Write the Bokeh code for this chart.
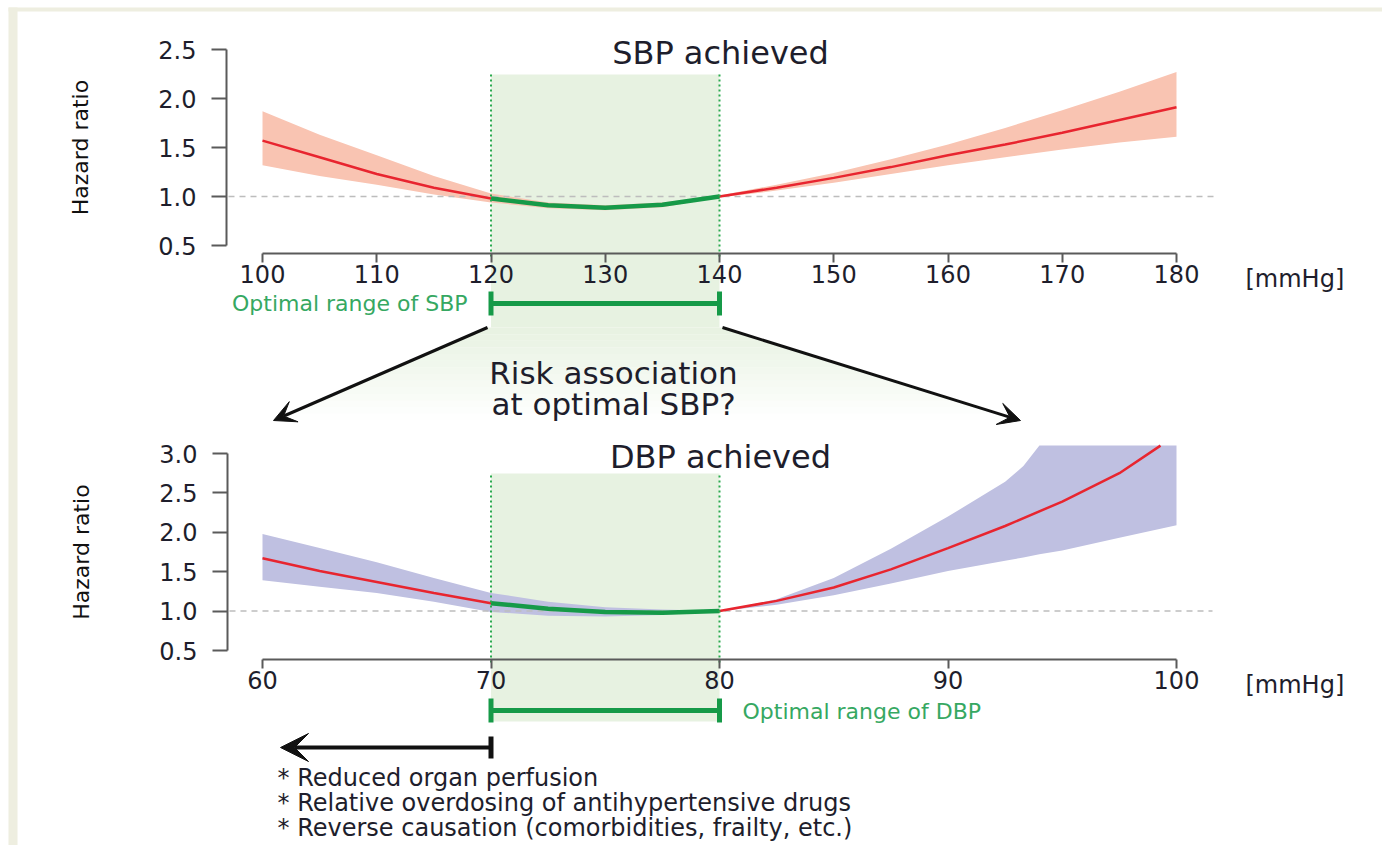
import numpy as np
from bokeh.plotting import figure
from bokeh.models import (Range1d, LinearAxis, FixedTicker, Label, Arrow, VeeHead,
                          ColumnDataSource, NumeralTickFormatter)
from bokeh.embed import file_html
from bokeh.resources import INLINE

# ---------------- data ----------------
sbp_x = [100, 105, 110, 115, 120, 125, 130, 135, 140, 145, 150, 155, 160, 165, 170, 175, 180]
sbp_hr = [1.57, 1.40, 1.23, 1.09, 0.98, 0.91, 0.885, 0.915, 1.00, 1.09, 1.19, 1.30, 1.42, 1.53, 1.65, 1.78, 1.91]
sbp_lo = [1.32, 1.21, 1.12, 1.02, 0.94, 0.88, 0.86, 0.89, 0.99, 1.06, 1.14, 1.23, 1.32, 1.40, 1.48, 1.55, 1.61]
sbp_hi = [1.87, 1.63, 1.42, 1.21, 1.03, 0.94, 0.91, 0.94, 1.01, 1.12, 1.24, 1.38, 1.53, 1.70, 1.88, 2.07, 2.27]
sbp_opt = [120, 140]

dbp_x = [60, 62.5, 65, 67.5, 70, 72.5, 75, 77.5, 80, 82.5, 85, 87.5, 90, 92.5, 95, 97.5, 99.3]
dbp_hr = [1.67, 1.51, 1.37, 1.23, 1.10, 1.03, 0.99, 0.98, 1.00, 1.13, 1.30, 1.53, 1.80, 2.08, 2.39, 2.75, 3.10]
dbp_band_x = [60, 62.5, 65, 67.5, 70, 72.5, 75, 77.5, 80, 82.5, 85, 87.5, 90, 92.5, 93.3, 94, 95, 97.5, 100]
dbp_lo = [1.39, 1.31, 1.23, 1.12, 0.99, 0.94, 0.93, 0.95, 1.00, 1.08, 1.20, 1.35, 1.51, 1.64, 1.68, 1.72, 1.77, 1.93, 2.09]
dbp_hi = [1.98, 1.80, 1.62, 1.42, 1.23, 1.12, 1.05, 1.02, 1.00, 1.15, 1.42, 1.79, 2.20, 2.64, 2.84, 3.10, 3.10, 3.10, 3.10]
dbp_opt = [70, 80]

sbp_ticks = [100, 110, 120, 130, 140, 150, 160, 170, 180]
hr1_ticks = [0.5, 1.0, 1.5, 2.0, 2.5]
dbp_ticks = [60, 70, 80, 90, 100]
hr2_ticks = [0.5, 1.0, 1.5, 2.0, 2.5, 3.0]
ref_hr = 1.0

bullets = ["* Reduced organ perfusion",
           "* Relative overdosing of antihypertensive drugs",
           "* Reverse causation (comorbidities, frailty, etc.)"]

# ---------------- layout (pixels of the picture) ----------------
X0, X1 = 0, 1382
Y0, Y1 = 845, 0


def lin(v1, p1, v2, p2):
    k = (v2 - v1) / (p2 - p1)
    return lambda px: v1 + (px - p1) * k


sbp_at = lin(100, 262, 180, 1176)
dbp_at = lin(60, 262, 100, 1176)
hr1_at = lin(0.5, 245, 2.5, 49)
hr2_at = lin(0.5, 650, 3.0, 453)

FONT = "DejaVu Sans"
TXT = "#1e1e2c"
GREEN = "#169a48"
GTXT = "#36a862"
SHADE = "#e7f2e1"
RED = "#e8252f"

p = figure(width=X1 - X0, height=Y0 - Y1, output_backend="svg", toolbar_location=None,
           x_range=Range1d(X0, X1), y_range=Range1d(Y0, Y1), min_border=0,
           x_axis_type=None, y_axis_type=None)
p.title.visible = False
p.outline_line_color = None
p.grid.visible = False
p.extra_x_ranges = {"sbp": Range1d(sbp_at(X0), sbp_at(X1)),
                    "dbp": Range1d(dbp_at(X0), dbp_at(X1))}
p.extra_y_ranges = {"hr1": Range1d(hr1_at(Y0), hr1_at(Y1)),
                    "hr2": Range1d(hr2_at(Y0), hr2_at(Y1))}

# page frame bands
p.quad(left=8, right=17, top=7, bottom=845, fill_color="#eeeee0", line_color=None)
p.quad(left=8, right=1382, top=7, bottom=11, fill_color="#eeeee0", line_color=None)

# ---- optimal range shading ----
p.quad(left=sbp_opt[0], right=sbp_opt[1], top=74, bottom=327, x_range_name="sbp",
       fill_color=SHADE, line_color=None)
p.quad(left=dbp_opt[0], right=dbp_opt[1], top=473, bottom=721, x_range_name="dbp",
       fill_color=SHADE, line_color=None)

# fading trapezoid between the arrows
la = ((487, 327), (273, 420))
ra = ((722, 327), (1020, 420))
N = 14
xs, ys, al = [], [], []
for i in range(N):
    t0, t1 = i / N, (i + 1) / N
    ya, yb = la[0][1] + t0 * (la[1][1] - la[0][1]), la[0][1] + t1 * (la[1][1] - la[0][1])
    xl0 = la[0][0] + t0 * (la[1][0] - la[0][0])
    xl1 = la[0][0] + t1 * (la[1][0] - la[0][0])
    xr0 = ra[0][0] + t0 * (ra[1][0] - ra[0][0])
    xr1 = ra[0][0] + t1 * (ra[1][0] - ra[0][0])
    xs.append([xl0, xr0, xr1, xl1])
    ys.append([ya, ya, yb, yb])
    al.append(1.0 - (i + 0.5) / N)
p.patches(xs=xs, ys=ys, fill_color=SHADE, fill_alpha=al, line_color=None)

# ---- top: SBP ----
s1 = ColumnDataSource(dict(x=sbp_x, hr=sbp_hr, lo=sbp_lo, hi=sbp_hi))
p.varea(x="x", y1="lo", y2="hi", source=s1, x_range_name="sbp", y_range_name="hr1",
        fill_color="#f9c4b2")
p.segment(x0=sbp_at(228), x1=sbp_at(1214), y0=ref_hr, y1=ref_hr, x_range_name="sbp",
          y_range_name="hr1", line_color="#bdbdbd", line_width=1.5, line_dash="6 5")
p.line(x="x", y="hr", source=s1, x_range_name="sbp", y_range_name="hr1",
       line_color=RED, line_width=2.5)
sx = np.array(sbp_x)
m1 = (sx >= sbp_opt[0]) & (sx <= sbp_opt[1])
p.line(x=sx[m1], y=np.array(sbp_hr)[m1], x_range_name="sbp", y_range_name="hr1",
       line_color=GREEN, line_width=4.5)
p.segment(x0=sbp_opt, x1=sbp_opt, y0=[74, 74], y1=[258, 258], x_range_name="sbp",
          line_color="#2aaa4e", line_width=2, line_dash="2 3")

xa1 = LinearAxis(x_range_name="sbp", y_range_name="hr1", fixed_location=hr1_at(253),
                 bounds=(100, 180), ticker=FixedTicker(ticks=sbp_ticks))
ya1 = LinearAxis(x_range_name="sbp", y_range_name="hr1", fixed_location=sbp_at(226),
                 bounds=(0.5, 2.5), ticker=FixedTicker(ticks=hr1_ticks),
                 formatter=NumeralTickFormatter(format="0.0"), axis_label="Hazard ratio")

# ---- bottom: DBP ----
s2 = ColumnDataSource(dict(x=dbp_band_x, lo=dbp_lo, hi=dbp_hi))
p.varea(x="x", y1="lo", y2="hi", source=s2, x_range_name="dbp", y_range_name="hr2",
        fill_color="#bfc0e1")
p.segment(x0=dbp_at(229), x1=dbp_at(1212), y0=ref_hr, y1=ref_hr, x_range_name="dbp",
          y_range_name="hr2", line_color="#bdbdbd", line_width=1.5, line_dash="6 5")
p.line(x=dbp_x, y=dbp_hr, x_range_name="dbp", y_range_name="hr2",
       line_color=RED, line_width=2.5)
dx = np.array(dbp_x)
m2 = (dx >= dbp_opt[0]) & (dx <= dbp_opt[1])
p.line(x=dx[m2], y=np.array(dbp_hr)[m2], x_range_name="dbp", y_range_name="hr2",
       line_color=GREEN, line_width=4.5)
p.segment(x0=dbp_opt, x1=dbp_opt, y0=[475, 475], y1=[664, 664], x_range_name="dbp",
          line_color="#2aaa4e", line_width=2, line_dash="2 3")

xa2 = LinearAxis(x_range_name="dbp", y_range_name="hr2", fixed_location=hr2_at(659),
                 bounds=(60, 100), ticker=FixedTicker(ticks=dbp_ticks))
ya2 = LinearAxis(x_range_name="dbp", y_range_name="hr2", fixed_location=dbp_at(227),
                 bounds=(0.5, 3.0), ticker=FixedTicker(ticks=hr2_ticks),
                 formatter=NumeralTickFormatter(format="0.0"), axis_label="Hazard ratio")

for ax in (xa1, ya1, xa2, ya2):
    ax.axis_line_color = "#5a5a5a"
    ax.axis_line_width = 2
    ax.major_tick_line_color = "#5a5a5a"
    ax.major_tick_line_width = 2
    ax.major_tick_in = 0
    ax.minor_tick_out = 0
    ax.minor_tick_in = 0
    ax.major_label_text_font = FONT
    ax.major_label_text_font_size = "24px"
    ax.major_label_text_color = TXT
for ax in (xa1, xa2):
    ax.major_tick_out = 9
    ax.major_label_standoff = 2
    p.add_layout(ax, "below")
for ax in (ya1, ya2):
    ax.major_tick_out = 15
    ax.major_label_standoff = 15
    ax.axis_label_text_font = FONT
    ax.axis_label_text_font_size = "22px"
    ax.axis_label_text_font_style = "normal"
    ax.axis_label_text_color = "#111111"
    ax.axis_label_standoff = 62
    p.add_layout(ax, "left")

# ---- optimal range bars ----
p.segment(x0=sbp_opt[0], x1=sbp_opt[1], y0=303, y1=303, x_range_name="sbp",
          line_color=GREEN, line_width=5)
p.segment(x0=sbp_opt, x1=sbp_opt, y0=[291, 291], y1=[315, 315], x_range_name="sbp",
          line_color=GREEN, line_width=5)
p.segment(x0=dbp_opt[0], x1=dbp_opt[1], y0=710, y1=710, x_range_name="dbp",
          line_color=GREEN, line_width=5)
p.segment(x0=dbp_opt, x1=dbp_opt, y0=[698, 698], y1=[722, 722], x_range_name="dbp",
          line_color=GREEN, line_width=5)

# ---- arrows ----
for (a, b) in (la, ra):
    p.add_layout(Arrow(end=VeeHead(size=22, fill_color="#111111", line_color="#111111"),
                       x_start=a[0], y_start=a[1], x_end=b[0], y_end=b[1],
                       line_color="#111111", line_width=3))
p.add_layout(Arrow(end=VeeHead(size=28, fill_color="#111111", line_color="#111111"),
                   x_start=dbp_opt[0], y_start=747, x_end=dbp_at(280), y_end=747,
                   x_range_name="dbp", line_color="#111111", line_width=4))
p.segment(x0=dbp_opt[0], x1=dbp_opt[0], y0=736, y1=758, x_range_name="dbp",
          line_color="#111111", line_width=5)


# ---- texts ----
def lab(x, y, text, size, color=TXT, align="left", xr="default"):
    p.add_layout(Label(x=x, y=y, text=text, text_font=FONT, text_font_size=size,
                       text_color=color, text_align=align, text_baseline="middle",
                       x_range_name=xr))


lab(720, 52, "SBP achieved", "32px", align="center")
lab(720, 456, "DBP achieved", "32px", align="center")
lab(1245, 278, "[mmHg]", "24px")
lab(1245, 684, "[mmHg]", "24px")
lab(467, 303, "Optimal range of SBP", "22px", GTXT, align="right")
lab(742, 711, "Optimal range of DBP", "22px", GTXT)
lab(613, 372, "Risk association", "31px", align="center")
lab(613, 403, "at optimal SBP?", "31px", align="center")
for i, t in enumerate(bullets):
    lab(277, 777 + 25 * i, t, "24px")

open("out.html", "w").write(file_html(p, INLINE))
